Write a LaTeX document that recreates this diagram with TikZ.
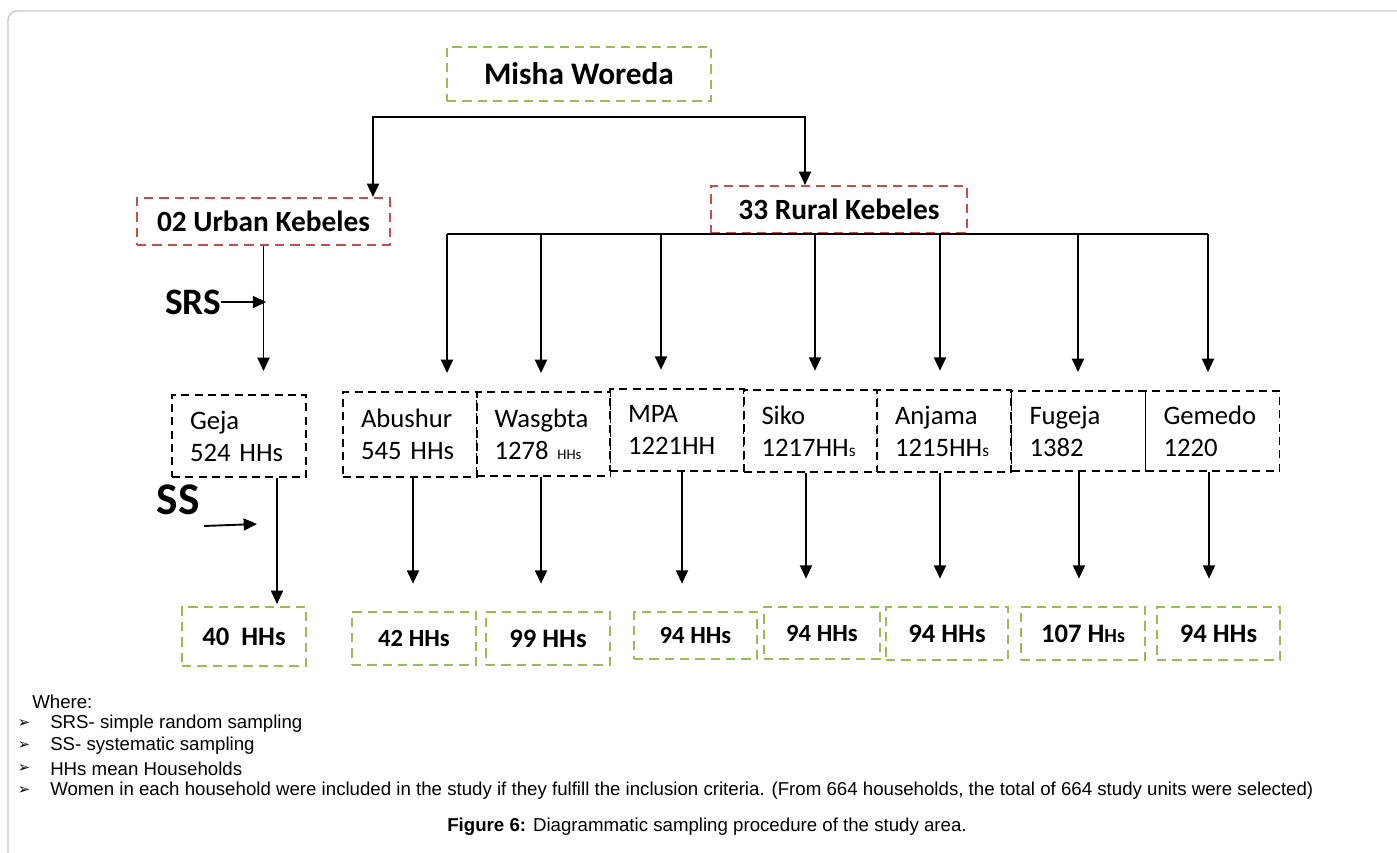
\documentclass[tikz,border=0pt]{standalone}
\usepackage{fontspec}
\setmainfont{Carlito}
\newfontfamily\arialfont{Liberation Sans}
\newfontfamily\symfont{DejaVu Sans}
\usetikzlibrary{arrows.meta}
\definecolor{boxgreen}{HTML}{9BBB59}
\definecolor{boxred}{HTML}{C0504D}
\tikzset{
  topbox/.style={draw=boxgreen, line width=1.5pt, dash pattern=on 7pt off 4.5pt, inner sep=0pt,
    font=\fontsize{23.5}{28}\selectfont\bfseries},
  kebbox/.style={draw=boxred, line width=1.5pt, dash pattern=on 7pt off 4.5pt, inner sep=0pt,
    font=\fontsize{22}{26}\selectfont\bfseries},
  sitebox/.style={draw, line width=1.4pt, dash pattern=on 6pt off 4pt, text width=73.5pt,
    inner xsep=13.5pt, inner ysep=0pt, minimum height=62pt, align=left,
    font=\fontsize{20}{24}\selectfont},
  hhbox/.style={draw=boxgreen, line width=1.5pt, dash pattern=on 7pt off 4.5pt, inner sep=0pt,
    minimum width=93pt, font=\fontsize{20}{24}\selectfont\bfseries},
  arr/.style={-{Triangle[length=10pt,width=9pt]}, line width=1.4pt},
  arrboth/.style={{Triangle[length=10pt,width=9pt]}-{Triangle[length=10pt,width=9pt]}, line width=1.4pt},
  method/.style={inner sep=0pt, font=\bfseries},
  note/.style={anchor=west, inner sep=0pt, font=\arialfont\fontsize{14}{16}\selectfont},
  tick/.style={inner sep=0pt, font=\symfont\fontsize{11}{12}\selectfont},
}

\begin{document}
\begin{tikzpicture}[x=0.75pt, y=-0.75pt]
    \useasboundingbox (0,0) rectangle (1397,853);
    \clip (0,0) rectangle (1397,853);
    \draw[black!22, line width=1pt, rounded corners=7pt] (8,880) |- (1420,11);

    % top levels
    \node[topbox, minimum width=198pt, minimum height=40.5pt] (misha) at (579,74) {Misha Woreda};
    \node[kebbox, minimum width=189.75pt, minimum height=35.25pt] (urban) at (263.5,221.5) {02 Urban Kebeles};
    \node[kebbox, minimum width=192pt, minimum height=35.25pt] (rural) at (839,209.5) {33 Rural Kebeles};
    \coordinate (tl) at (373,117);
    \coordinate (tr) at (805,117);
    \draw[arrboth] (tl |- urban.north) -- (tl) -- (tr) -- (tr |- rural.north);

    % kebeles
    \node[sitebox] (geja) at (239,436) {Geja\\524 HHs};
    \node[sitebox, minimum height=63.75pt] (abushur) at (410,434.5) {Abushur\\545 HHs};
    \node[sitebox, minimum height=63pt] (wasgbta) at (543.5,434) {Wasgbta\\1278 {\fontsize{11}{12}\selectfont HHs}};
    \node[sitebox] (mpa) at (677,430) {MPA\\1221HH};
    \node[sitebox] (siko) at (810.5,431) {Siko\\1217HH{\fontsize{13}{14}\selectfont s}};
    \node[sitebox] (anjama) at (944,431) {Anjama\\1215HH{\fontsize{13}{14}\selectfont s}};
    \node[sitebox, minimum height=60pt] (fugeja) at (1078.5,431) {Fugeja\\1382};
    \node[sitebox, minimum height=60pt] (gemedo) at (1212.5,431) {Gemedo\\1220};

    % samples
    \node[hhbox, minimum height=44.25pt] (hh-geja) at (244,636.5) {40~ HHs};
    \node[hhbox, minimum height=39.75pt, font=\fontsize{18.5}{22}\selectfont\bfseries] (hh-abushur) at (414,638.5) {42 HHs};
    \node[hhbox, minimum height=39.75pt] (hh-wasgbta) at (548,638.5) {99 HHs};
    \node[hhbox, minimum width=92.25pt, minimum height=35.25pt, font=\fontsize{18.5}{22}\selectfont\bfseries] (hh-mpa) at (695.5,635.5) {94 HHs};
    \node[hhbox, minimum width=87pt, minimum height=39pt, font=\fontsize{18.5}{22}\selectfont\bfseries] (hh-siko) at (822,633) {94 HHs};
    \node[hhbox, minimum width=91.5pt, minimum height=39.75pt] (hh-anjama) at (947,633.5) {94 HHs};
    \node[hhbox, minimum height=39.75pt] (hh-fugeja) at (1083,633.5) {107 H{\fontsize{15}{18}\selectfont Hs}};
    \node[hhbox, minimum width=92.25pt, minimum height=39.75pt] (hh-gemedo) at (1218.5,633.5) {94 HHs};

    % urban branch
    \node[method, font=\fontsize{28}{32}\selectfont\bfseries] (srs) at (193,302) {SRS};
    \node[method, font=\fontsize{34}{38}\selectfont\bfseries] (ss) at (178,500) {SS};
    \draw[arr, shorten >=17pt] (urban.south) -- (urban.south |- geja.north);
    \draw[arr, shorten >=-2pt] (srs.east) -- (srs.east -| urban.south);
    \coordinate (gx) at (277,0);
    \draw[arr, shorten >=1.5pt] (gx |- geja.south) -- (gx |- hh-geja.north);
    \coordinate (ssfrom) at (204,526);
    \coordinate (ssto) at (257,524);
    \draw[arr] (ssfrom) -- (ssto);

    % rural branch
    \foreach \n/\a/\b in {abushur/447/413, wasgbta/541/541, mpa/661/682, siko/815/806,
                          anjama/940/940, fugeja/1078/1079, gemedo/1208/1209}{
      \coordinate (in-\n) at (\a,0);
      \coordinate (out-\n) at (\b,0);
      \draw[arr, shorten >=13.5pt] (in-\n |- rural.south) -- (in-\n |- \n.north);
      \draw[arr, shorten >=20.5pt] (out-\n |- \n.south) -- (out-\n |- hh-\n.north);
    }
    \draw[line width=1.4pt] (in-abushur |- rural.south) -- (in-gemedo |- rural.south);

    % key
    \node[note] (where) at (32,702) {Where:};
    \foreach \k/\y/\t in {1/724/{SRS- simple random sampling},
                          2/746/{SS- systematic sampling},
                          3/768.5/{HHs mean Households},
                          4/791/{Women in each household were included in the study if they fulfill the inclusion criteria. (From 664 households, the total of 664 study units were selected)}}{
      \node[tick] (tick\k) at (24,\y) {➢};
      \node[note] (key\k) at (50,\y) {\t};
    }
    \node[inner sep=0pt, font=\arialfont\fontsize{14}{16}\selectfont] (caption) at (707,827)
      {\textbf{Figure 6:} Diagrammatic sampling procedure of the study area.};
\end{tikzpicture}
\end{document}
